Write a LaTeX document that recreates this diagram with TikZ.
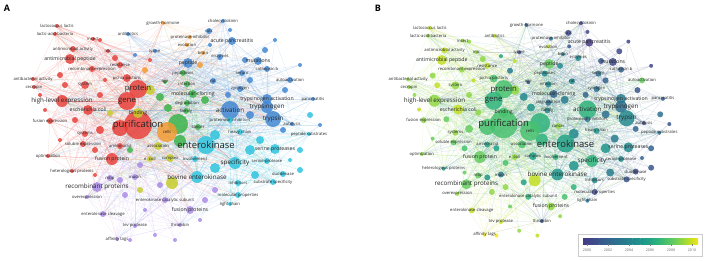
\documentclass[tikz,border=0pt]{standalone}
\usepackage{fontspec}
\setmainfont{Open Sans}
\usetikzlibrary{positioning}

\pgfdeclarelayer{bg}
\pgfdeclarelayer{fg}
\pgfsetlayers{bg,main,fg}

% cluster colours (panel A)
\definecolor{cr}{HTML}{E8413B}
\definecolor{cg}{HTML}{3BB44A}
\definecolor{cb}{HTML}{4287D2}
\definecolor{cc}{HTML}{2EC4DE}
\definecolor{cp}{HTML}{A98BE6}
\definecolor{cy}{HTML}{C6CC2A}
\definecolor{co}{HTML}{F39A32}
% year colours (panel B)
\definecolor{yr0}{HTML}{443A83}
\definecolor{yr1}{HTML}{3F4889}
\definecolor{yr2}{HTML}{39568C}
\definecolor{yr3}{HTML}{33638D}
\definecolor{yr4}{HTML}{2D708E}
\definecolor{yr5}{HTML}{287C8E}
\definecolor{yr6}{HTML}{23898E}
\definecolor{yr7}{HTML}{1F958B}
\definecolor{yr8}{HTML}{21A286}
\definecolor{yr9}{HTML}{2EB37C}
\definecolor{yr10}{HTML}{47C16E}
\definecolor{yr11}{HTML}{65CB5E}
\definecolor{yr12}{HTML}{8FD744}
\definecolor{yr13}{HTML}{C2DF23}
\definecolor{yr14}{HTML}{F1E51D}

\tikzset{
  kw/.style={circle, inner sep=0pt, draw=none, fill opacity=0.85},
  kwlabel/.style={text=black!85, inner sep=0pt},
  lbs/.style={kwlabel, font=\fontsize{4.2}{4.2}\selectfont},
  lbm/.style={kwlabel, font=\fontsize{5.2}{5.2}\selectfont},
  lbl/.style={kwlabel, font=\fontsize{6.3}{6.3}\selectfont},
  lbx/.style={kwlabel, font=\fontsize{7.8}{7.8}\selectfont},
  lbh/.style={kwlabel, font=\fontsize{9.5}{9.5}\selectfont},
  kwlink/.style={line width=0.25pt, draw opacity=0.3},
  tag/.style={font=\bfseries\fontsize{9}{9}\selectfont, inner sep=0pt},
  ticklabel/.style={font=\fontsize{3.6}{3.6}\selectfont, text=black!60, inner sep=0pt}
}

% x/y/cluster/year/radius/label size/keyword
\def\kwlist{
 57/26/cr/13/2/s/lactococcus lactis,
 55/34/cr/12/2/s/lactic-acid-bacteria,
 93/39/cr/12/2/s/insect,
 73/49/cr/13/3/s/antimicrobial activity,
 108/51/cr/12/2/s/mic,
 70/59/cr/13/5/m/antimicrobial peptide,
 92/69/cr/12/3/s/recombinant expression,
 120/65/cr/13/3/s/resistance,
 33/79/cr/12/2/s/antibacterial activity,
 34/87/cr/12/2/s/cecropin,
 127/78/cr/10/4/s/pichia pastoris,
 85/85/cr/12/4/s/system,
 138/89/cr/10/9/x/protein,
 62/101/cr/12/6/l/high-level expression,
 127/101/cr/9/9/x/gene,
 88/110/cr/13/5/m/escherichia coli,
 50/121/cr/12/3/s/fusion expression,
 138/125/cr/10/14/h/purification,
 85/134/cr/12/3/s/systems,
 83/144/cr/11/3/s/soluble expression,
 48/156/cr/12/2/s/optimization,
 112/159/cr/11/6/m/fusion protein,
 72/171/cr/7/2/s/heterologous proteins,
 120/146/cr/8/3/s/amino-acid,
 163/23/co/3/2/s/growth-hormone,
 190/37/co/4/2/s/proteinase-inhibitor,
 187/45/co/13/2/s/evolution,
 203/53/co/5/2/s/brain,
 167/132/co/10/10/s/cells,
 223/21/cb/1/2/s/cholecystokinin,
 209/31/cb/1/3/s/rats,
 232/41/cb/0/4/m/acute pancreatitis,
 220/57/cb/6/3/s/enzymes,
 258/61/cb/1/4/m/mutations,
 267/69/cb/3/3/s/cathepsin b,
 242/73/cb/4/3/s/serum,
 290/80/cb/11/3/s/autoactivation,
 213/81/cb/6/3/s/rat,
 240/89/cb/4/3/s/zymogen,
 267/99/cb/5/5/m/trypsinogen activation,
 267/107/cb/4/6/l/trypsinogen,
 273/119/cb/6/8/l/trypsin,
 292/124/cb/1/2/s/autolysis,
 313/99/cb/2/2/s/pancreatitis,
 188/63/cb/11/5/m/peptide,
 128/34/cb/13/2/s/antibiotics,
 155/51/cb/1/2/s/lysine,
 230/110/cb/9/9/l/activation,
 183/73/cg/6/3/s/peptidases,
 165/82/cg/3/2/s/age,
 187/84/cg/6/3/s/infection,
 193/94/cg/3/4/m/molecular-cloning,
 187/103/cg/4/3/s/degradation,
 186/111/cg/6/3/s/family,
 198/127/cg/12/3/s/cancer,
 206/145/cc/8/9/h/enterokinase,
 235/163/cc/9/6/l/specificity,
 197/177/cc/7/6/l/bovine enterokinase,
 275/149/cc/6/5/m/serine proteases,
 267/161/cc/6/3/s/serine-protease,
 283/174/cc/1/3/s/duodenase,
 273/182/cc/2/3/s/substrate specificity,
 238/183/cc/6/3/s/inhibitors,
 238/195/cc/1/3/s/molecular properties,
 230/204/cc/4/2/s/light chain,
 309/134/cc/4/2/s/peptide substrates,
 240/132/cc/7/3/s/heavy chain,
 230/120/cc/5/3/s/proteinase inhibitors,
 195/159/cc/9/3/s/involvement,
 138/113/cy/10/5/m/binding,
 150/159/cy/12/3/s/e. coli,
 170/158/cy/8/4/s/complex,
 158/146/cy/10/4/s/association,
 97/187/cp/11/5/l/recombinant proteins,
 110/178/cp/11/3/s/mbp,
 135/177/cp/5/3/s/mucin,
 87/197/cp/12/2/s/overexpression,
 165/200/cp/9/3/s/enterokinase catalytic subunit,
 190/210/cp/12/4/m/fusion proteins,
 103/214/cp/13/3/s/enterokinase cleavage,
 180/225/cp/2/2/s/thrombin,
 135/226/cp/13/2/s/tev protease,
 117/239/cp/14/2/s/affinity tags}

% x/y/cluster/year/radius
\def\dotlist{
 178/124/cg/9/10, 180/141/cg/9/6, 150/90/cy/12/5, 110/113/cy/12/3,
 160/97/cg/6/4, 168/108/cg/7/4, 205/100/cg/5/4, 215/135/cc/6/5,
 250/150/cc/7/5, 215/168/cc/7/5, 260/140/cc/5/4, 300/150/cc/3/3,
 283/130/cb/3/3, 250/80/cb/3/3, 285/90/cb/2/3, 265/50/cb/1/3,
 200/65/co/6/3, 145/70/co/5/3, 135/55/cb/8/2, 100/40/cr/12/2,
 115/58/cr/12/3, 60/75/cr/12/3, 75/120/cr/11/3, 100/130/cr/11/4,
 95/150/cr/10/3, 60/140/cr/11/2, 140/165/cp/10/3, 160/185/cp/8/3,
 125/195/cp/12/3, 145/210/cp/11/2, 200/220/cp/12/2, 215/190/cp/9/3,
 120/180/cp/7/3, 250/115/cb/4/4, 228/95/cb/3/3, 130/150/cg/8/3,
 172/183/cy/13/6, 140/190/cy/12/3, 150/60/cr/13/2, 120/128/cr/10/8,
 310/115/cc/4/3, 300/170/cc/2/3, 255/175/cc/5/4, 290/160/cc/3/2,
 320/125/cb/2/2, 300/65/cb/1/2, 245/60/cb/2/3, 275/40/cb/1/2,
 230/30/cb/1/2, 210/45/cb/2/2, 40/95/cr/12/2, 45/110/cr/13/2,
 65/85/cr/13/3, 100/95/cr/12/3, 105/80/cr/13/2, 95/175/cr/11/2,
 130/240/cp/14/2, 155/235/cp/12/2, 175/240/cp/13/2, 205/200/cp/10/3}

\begin{document}
\begin{tikzpicture}[x=1bp, y=-1bp]
\useasboundingbox (0,0) rectangle (708,260);

\node[tag] (tagA) at (7,8) {A};
\node[tag] (tagB) at (378,8) {B};

\foreach \pn/\sx/\sy/\kx/\ky in {a/0/0/1/1, b/378.1/2.8/0.91/0.97} {
\begin{scope}[shift={(\sx,\sy)}, xscale=\kx, yscale=\ky]

  % unlabelled terms
  \foreach \x/\y/\cl/\yr/\rr [count=\idx] in \dotlist {
    \expandafter\xdef\csname cad\idx\endcsname{\cl}
    \expandafter\xdef\csname cbd\idx\endcsname{yr\yr}
    \edef\nc{\csname c\pn d\idx\endcsname}
    \node[kw, fill=\nc, minimum size={2*\rr*1bp}] (\pn d\idx) at (\x,\y) {};
  }

  % keywords
  \foreach \x/\y/\cl/\yr/\rr/\fs/\kw [count=\idx] in \kwlist {
    \expandafter\xdef\csname ca\idx\endcsname{\cl}
    \expandafter\xdef\csname cb\idx\endcsname{yr\yr}
    \edef\nc{\csname c\pn\idx\endcsname}
    \node[kw, fill=\nc, minimum size={2*\rr*1bp}] (\pn\idx) at (\x,\y) {};
    \begin{pgfonlayer}{fg}
      \node[lb\fs] (\pn l\idx) at (\x,\y) {\kw};
    \end{pgfonlayer}
  }

  % co-occurrence links
  \begin{pgfonlayer}{bg}
  \pgfmathsetseed{17}
  \foreach \i in {1,...,83} {
    \edef\ec{\csname c\pn\i\endcsname}
    \foreach \h in {18,56,13,15,42,48,57,22,14,58,41,45,16,29} {
      \pgfmathsetmacro\p{rnd}
      \ifnum\i=\h\else\ifdim\p pt<0.4pt
        \draw[kwlink, \ec!70] (\pn\i) -- (\pn\h);
      \fi\fi
    }
    \foreach \j in {1,...,7} {
      \pgfmathtruncatemacro\m{\i+\j}
      \pgfmathsetmacro\p{rnd}
      \ifnum\m<84 \ifdim\p pt<0.55pt
        \draw[kwlink, \ec!70] (\pn\i) -- (\pn\m);
      \fi\fi
    }
    \foreach \j in {1,2} {
      \pgfmathtruncatemacro\m{random(1,83)}
      \ifnum\m=\i\else \draw[kwlink, \ec!70] (\pn\i) -- (\pn\m);\fi
    }
  }
  \foreach \i in {1,...,60} {
    \edef\ec{\csname c\pn d\i\endcsname}
    \draw[kwlink, \ec!70] (\pn d\i) -- (\pn18);
    \foreach \j in {1,2,3} {
      \pgfmathtruncatemacro\m{random(1,83)}
      \draw[kwlink, \ec!70] (\pn d\i) -- (\pn\m);
    }
  }
  \end{pgfonlayer}

\end{scope}
}

% year legend of panel B
\draw[black!20, line width=0.3pt, fill=white] (578,234) rectangle (702,256);
\foreach \i [evaluate=\i as \j using int(\i+1)] in {0,...,13}
  \shade[left color=yr\i, right color=yr\j]
    ({583+\i*115/14},238) rectangle ({583+(\i+1)*115/14+0.2},244);
\foreach \yy [count=\i from 0] in {2000,2002,2004,2006,2008,2010} {
  \draw[black!50, line width=0.2pt] ({587+\i*21},244) -- ({587+\i*21},245.5);
  \node[ticklabel] (tick\yy) at ({587+\i*21},250) {\yy};
}

\end{tikzpicture}
\end{document}
